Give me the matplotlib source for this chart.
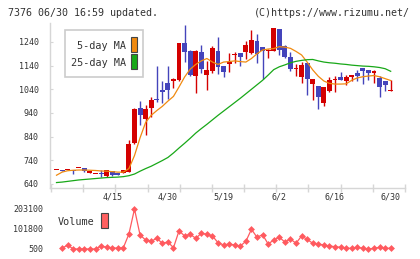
import matplotlib
matplotlib.use('Agg')
import matplotlib.pyplot as plt
from matplotlib.patches import Rectangle
import numpy as np

# daily prices (4/2 - 6/30)
opens = [698, 699, 698, 699, 706, 708, 686, 681, 686, 675, 693, 687, 685, 690, 814,
         960, 916, 962, 997, 1037, 1065, 1073, 1079, 1236, 1202, 1097, 1198, 1102, 1117, 1202,
         1139, 1145, 1183, 1193, 1198, 1193, 1244, 1218, 1200, 1202, 1295, 1223, 1177, 1124, 1094,
         1151, 1064, 1054, 984, 1033, 1081, 1092, 1077, 1091, 1107, 1130, 1122, 1108, 1088, 1073, 1033]
closes = [699, 694, 699, 696, 708, 696, 696, 682, 684, 698, 677, 680, 699, 808, 957,
          932, 957, 995, 993, 1029, 1037, 1082, 1234, 1196, 1100, 1202, 1127, 1122, 1215, 1136,
          1115, 1157, 1191, 1178, 1229, 1248, 1191, 1200, 1208, 1299, 1205, 1178, 1126, 1126, 1142,
          1082, 1082, 1009, 1050, 1079, 1083, 1081, 1092, 1100, 1098, 1119, 1110, 1119, 1050, 1060, 1034]
highs = [699, 699, 699, 699, 708, 708, 696, 682, 699, 699, 695, 687, 699, 826, 960,
         991, 974, 1006, 1140, 1075, 1140, 1087, 1236, 1313, 1204, 1205, 1227, 1160, 1223, 1261,
         1140, 1192, 1199, 1195, 1246, 1291, 1274, 1220, 1210, 1300, 1296, 1225, 1198, 1148, 1154,
         1152, 1083, 1055, 1051, 1092, 1096, 1113, 1100, 1101, 1122, 1131, 1123, 1120, 1098, 1074, 1079]
lows = [698, 694, 698, 682, 706, 691, 686, 681, 668, 671, 675, 679, 685, 690, 810,
        888, 847, 924, 985, 981, 1000, 1047, 1075, 1157, 1098, 1023, 1108, 1038, 1107, 1103,
        1093, 1114, 1150, 1140, 1168, 1190, 1150, 1082, 1174, 1200, 1186, 1171, 1119, 1098, 1068,
        1016, 995, 958, 971, 1030, 1030, 1080, 1058, 1073, 1073, 1064, 1079, 1068, 1009, 1034, 1033]

ma5 = [677, 690, 696, 698, 699, 699, 698, 697, 695, 694, 692, 690, 690, 705, 760,
       835, 900, 930, 950, 968, 990, 1010, 1050, 1092, 1125, 1145, 1160, 1170, 1155, 1145,
       1155, 1157, 1160, 1157, 1155, 1170, 1190, 1206, 1210, 1212, 1220, 1218, 1213, 1200, 1185,
       1155, 1122, 1095, 1075, 1065, 1062, 1062, 1063, 1078, 1088, 1093, 1096, 1098, 1093, 1085, 1077]
ma25 = [646, 648, 651, 654, 657, 659, 661, 663, 665, 667, 668, 669, 671, 675, 682,
        694, 705, 715, 727, 739, 752, 771, 792, 812, 833, 855, 874, 892, 911, 930,
        948, 966, 984, 1002, 1021, 1040, 1059, 1078, 1100, 1123, 1135, 1143, 1152, 1158, 1162,
        1165, 1166, 1160, 1155, 1152, 1150, 1147, 1145, 1142, 1140, 1138, 1137, 1135, 1132, 1127, 1116]

# volume from the 2nd day on
volume = [4000, 20760, 500, 500, 500, 500, 500, 15700, 9100, 7000, 4000, 7000, 76500, 203100, 71400,
          46000, 39500, 54700, 29400, 36000, 7000, 93000, 66300, 75000, 54700, 80000, 75000, 66300, 32400, 20760,
          25800, 20760, 15700, 39500, 100300, 59800, 73000, 25800, 46000, 59800, 36000, 51100, 29400, 66300, 49600,
          29400, 25800, 20760, 15700, 12100, 9100, 4000, 4000, 9100, 4000, 500, 4000, 9100, 4000, 4000]

date_labels = ['4/15', '4/30', '5/19', '6/2', '6/16', '6/30']
label_days = [10, 20, 30, 40, 50, 60]

W, H = 420, 259
fig = plt.figure(figsize=(4.2, 2.59), dpi=100)
mono = 'DejaVu Sans Mono'
txt = '#333333'
axis_grey = '#d6d6d6'


def px_axes(l, t, r, b):
    return fig.add_axes([l / W, 1 - b / H, (r - l) / W, (b - t) / H])


x = np.arange(len(opens))
o = np.array(opens)
c = np.array(closes)
up = c >= o
cols = np.where(up, '#d40000', '#4444bb')

ax = px_axes(50, 23, 405, 188)
ax.vlines(x, lows, highs, colors=cols, lw=1)
ax.bar(x, np.maximum(np.abs(c - o), 4), bottom=np.minimum(o, c), width=0.88,
       color=cols, linewidth=0)
ax.plot(x, ma5, color='#f08a10', lw=0.9)
ax.plot(x, ma25, color='#18a818', lw=0.9)

ax.set_xlim(-1.17, 62.57)
ax.set_ylim(623, 1320)
ax.set_yticks(range(640, 1241, 100))
ax.set_yticklabels([str(v) for v in range(640, 1241, 100)], fontsize=6, family=mono, color=txt)
ax.set_xticks(label_days)
ax.set_xticklabels(date_labels, fontsize=6, family=mono, color=txt)
ax.set_xticks(np.linspace(-0.99, 62.57, 12), minor=True)
ax.tick_params(axis='x', which='major', length=0, pad=3.5)
ax.tick_params(axis='x', which='minor', length=6, direction='inout', color=axis_grey, width=1)
ax.tick_params(axis='y', length=2, direction='in', color=axis_grey, pad=8)
for s in ['top', 'right']:
    ax.spines[s].set_visible(False)
for s in ['left', 'bottom']:
    ax.spines[s].set_color(axis_grey)
    ax.spines[s].set_linewidth(1)

# legend box
fig.patches.append(Rectangle((65 / W, 1 - 77 / H), 78 / W, 47 / H, transform=fig.transFigure,
                             facecolor='white', edgecolor='#cccccc', lw=1.2, zorder=5))
fig.text(126 / W, 1 - 46 / H, '5-day MA', ha='right', va='center', fontsize=7.3,
         family=mono, color=txt, zorder=6)
fig.text(126 / W, 1 - 63 / H, '25-day MA', ha='right', va='center', fontsize=7.3,
         family=mono, color=txt, zorder=6)
fig.patches.append(Rectangle((131 / W, 1 - 52 / H), 6 / W, 15 / H, transform=fig.transFigure,
                             facecolor='#f08a10', edgecolor='#444444', lw=0.8, zorder=6))
fig.patches.append(Rectangle((131 / W, 1 - 69 / H), 6 / W, 15 / H, transform=fig.transFigure,
                             facecolor='#18a818', edgecolor='#444444', lw=0.8, zorder=6))

# volume panel
axv = px_axes(50, 205, 405, 253)
xv = np.arange(1, len(volume) + 1)
axv.plot(xv, volume, color='#ff5a5f', lw=0.9, marker='D', markersize=3.5, markeredgewidth=0)
axv.set_xlim(-1.17, 62.57)
axv.set_ylim(-19760, 223360)
axv.set_xticks([])
axv.set_yticks([500, 101800, 203100])
axv.set_yticklabels(['500', '101800', '203100'], fontsize=6, family=mono, color=txt)
axv.tick_params(axis='y', length=0, pad=5)
for s in axv.spines.values():
    s.set_visible(False)
axv.patch.set_alpha(0)
fig.text(58 / W, 1 - 222 / H, 'Volume', ha='left', va='center', fontsize=7.3, family=mono, color=txt)
fig.patches.append(Rectangle((101 / W, 1 - 228 / H), 7 / W, 15 / H, transform=fig.transFigure,
                             facecolor='#ff6060', edgecolor='#444444', lw=0.8))

fig.text(8 / W, 1 - 12.5 / H, '7376 06/30 16:59 updated.', ha='left', va='center',
         fontsize=7.2, family=mono, color=txt)
fig.text(410 / W, 1 - 12.5 / H, '(C)https://www.rizumu.net/', ha='right', va='center',
         fontsize=7.2, family=mono, color=txt)

fig.savefig('out.png', dpi=100)
